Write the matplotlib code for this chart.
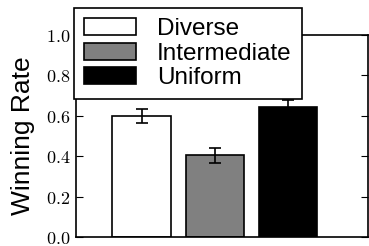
import matplotlib
matplotlib.use("Agg")
import matplotlib.pyplot as plt
from matplotlib.ticker import FixedLocator, FuncFormatter

plt.rcParams['mathtext.fontset'] = 'cm'

categories = ["Diverse", "Intermediate", "Uniform"]
values = [0.60, 0.405, 0.643]
errors = [0.035, 0.037, 0.035]
colors = ["white", "#808080", "black"]
yticks = [0.0, 0.2, 0.4, 0.6, 0.8, 1.0]

fig = plt.figure(figsize=(3.69, 2.46), dpi=100)
ax = fig.add_axes([76/369, 9/246, 292/369, 202/246])

xs = list(range(len(categories)))
bars = []
for x, v, e, c, lab in zip(xs, values, errors, colors, categories):
    b = ax.bar(x, v, width=0.8, color=c, edgecolor="black", linewidth=1.2,
               yerr=e, capsize=4, error_kw=dict(ecolor="black", elinewidth=1.2, capthick=1.2),
               label=lab, zorder=2)
    bars.append(b)

ax.set_xlim(-0.9, 3.1)
ax.set_ylim(0, 1.0)
ax.set_xticks([])
ax.yaxis.set_major_locator(FixedLocator(yticks))
ax.yaxis.set_major_formatter(FuncFormatter(lambda v, p: r"$%.1f$" % v))
ax.tick_params(axis='y', direction='in', length=5, width=0.8, left=True, right=True,
               labelsize=13, pad=4)
for s in ax.spines.values():
    s.set_linewidth(1.2)
ax.set_ylabel("Winning Rate", fontsize=19, family="Liberation Sans", labelpad=8)

leg = fig.legend(handles=[b.patches[0] for b in bars], labels=categories,
                 loc="upper left", bbox_to_anchor=(74/369, 1 - 8/246),
                 bbox_transform=fig.transFigure, borderaxespad=0,
                 prop=dict(family="Liberation Sans", size=17.5),
                 fancybox=False, framealpha=1, edgecolor="black",
                 handlelength=2.14, handleheight=0.7, labelspacing=0.1,
                 borderpad=0.42, handletextpad=0.85)
leg.get_frame().set_linewidth(1.2)

fig.savefig("out.png", dpi=100)
